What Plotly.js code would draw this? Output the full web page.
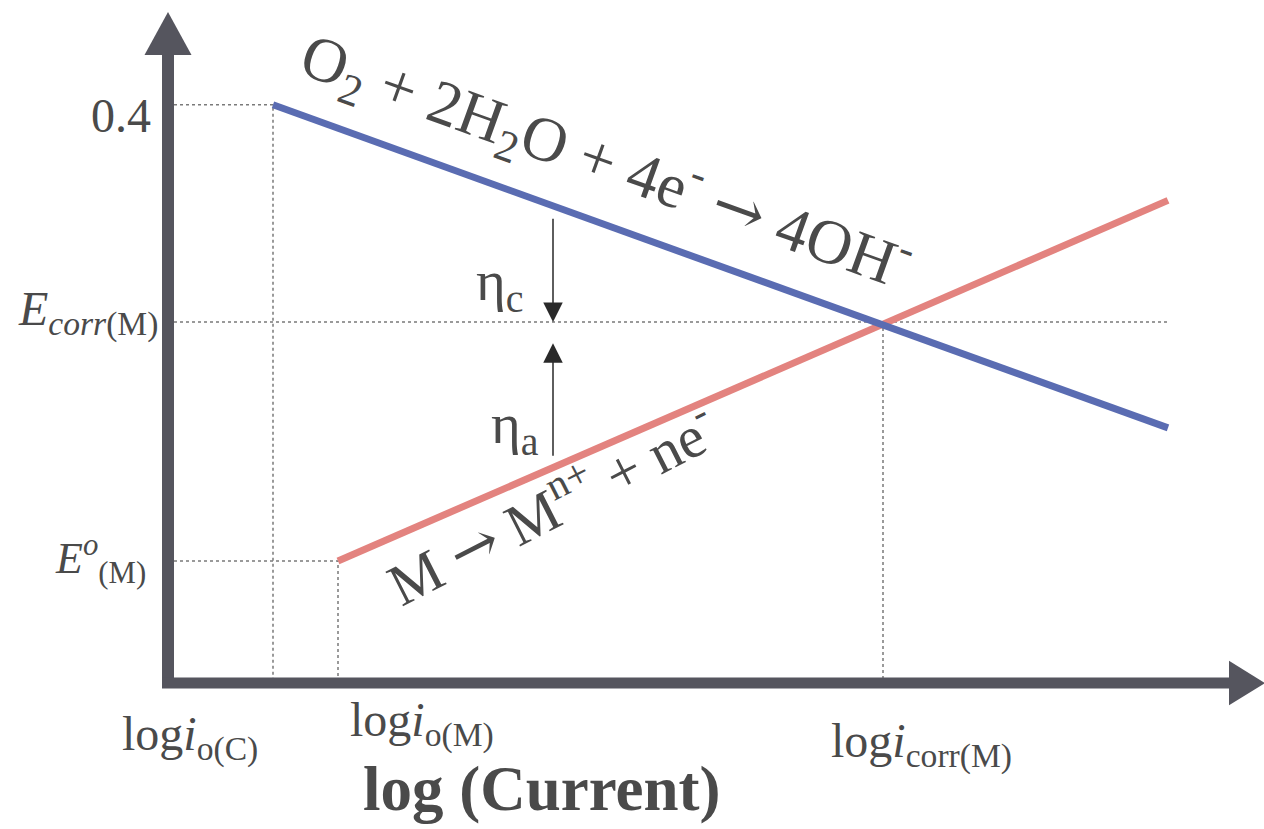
<!DOCTYPE html>
<html><head><meta charset="utf-8">
<script src="https://cdn.plot.ly/plotly-3.0.1.min.js"></script>
<style>html,body{margin:0;padding:0;background:#fff;}#chart{width:1264px;height:829px;}</style>
</head><body><div id="chart"></div>
<script>
// ---- data (arbitrary log-current units, potential in V) ----
const xTickVals = [1.05, 1.70, 7.15];
const xTickText = ['log<i>i</i><sub>o(C)</sub>', 'log<i>i</i><sub>o(M)</sub>', 'log<i>i</i><sub>corr(M)</sub>'];
const yTickVals = [0.40, 0.00, -0.44];
const yTickText = ['0.4', '<i>E</i><sub><i>corr</i>(M)</sub>', '<i>E</i><sup><i>o</i></sup><sub>(M)</sub>'];
const cathodicLogI = [1.05, 10.0];
const cathodicE = [0.40, -0.195];
const anodicLogI = [1.70, 10.0];
const anodicE = [-0.44, 0.224];
const etaLogI = 3.85;
const etaCathodic = [0.193, 0.0];
const etaAnodic = [-0.249, -0.039];
const ARROW = '<span style="font-family:DejaVu Serif">\u2192</span>';
const cathodicLabel = 'O<sub>2</sub> + 2H<sub>2</sub>O + 4e<sup>-</sup> ' + ARROW + ' 4OH<sup>-</sup>';
const anodicLabel = 'M ' + ARROW + ' M<sup>n+</sup> + ne<sup>-</sup>';
const xAxisTitle = '<b>log (Current)</b>';
const etaLabels = ['\u03b7<sub>c</sub>', '\u03b7<sub>a</sub>'];

const X_MIN = -1.68, X_MAX = 10.96, Y_MIN = -0.9337, Y_MAX = 0.593;
const AXIS_Y = -0.665;
const AXC = '#55555e';
const TXT = '#4a4a4a';
const FONT = 'Liberation Serif, Times New Roman, serif';

const gx = [0, xTickVals[0], xTickVals[0], null,
            0, xTickVals[1], xTickVals[1], null,
            0, cathodicLogI[1], null,
            xTickVals[2], xTickVals[2]];
const gy = [yTickVals[0], yTickVals[0], AXIS_Y, null,
            yTickVals[2], yTickVals[2], AXIS_Y, null,
            yTickVals[1], yTickVals[1], null,
            yTickVals[1], AXIS_Y];

const traces = [
  {x: gx, y: gy, mode: 'lines', line: {color: '#7a7a7a', width: 1.5, dash: 'dot'}, hoverinfo: 'skip'},
  {x: anodicLogI, y: anodicE, mode: 'lines', line: {color: '#e3837f', width: 7}},
  {x: cathodicLogI, y: cathodicE, mode: 'lines', line: {color: '#5a6cb2', width: 7}}
];

const shapes = [
  {type: 'line', xref: 'x', yref: 'y', x0: 0, x1: 0, y0: -0.674, y1: 0.492, line: {color: AXC, width: 12}},
  {type: 'line', xref: 'x', yref: 'y', x0: -0.06, x1: 10.61, y0: AXIS_Y, y1: AXIS_Y, line: {color: AXC, width: 11}},
  {type: 'path', xref: 'x', yref: 'y', path: 'M -0.235 0.4917 L 0.235 0.4917 L 0 0.571 Z', fillcolor: AXC, line: {width: 0}},
  {type: 'path', xref: 'x', yref: 'y', path: 'M 10.61 -0.624 L 10.61 -0.706 L 10.97 -0.665 Z', fillcolor: AXC, line: {width: 0}}
];

const ann = [];
// y labels
const yShiftX = [-15, -8, -20];
const yShiftY = [-11, 10, 2];
const ySizes = [48, 48, 44];
yTickVals.forEach((v, i) => ann.push({x: 0, y: v, xref: 'x', yref: 'y', text: yTickText[i], showarrow: false,
  xanchor: 'right', yanchor: 'middle', xshift: yShiftX[i], yshift: yShiftY[i], font: {family: FONT, size: ySizes[i], color: TXT}}));
// x labels
const xShiftX = [-83, 84, 38];
const xShiftY = [-54, -40, -61];
xTickVals.forEach((v, i) => ann.push({x: v, y: AXIS_Y, xref: 'x', yref: 'y', text: xTickText[i], showarrow: false,
  xanchor: 'center', yanchor: 'middle', xshift: xShiftX[i], yshift: xShiftY[i], font: {family: FONT, size: 48, color: TXT}}));
// x axis title
ann.push({x: 3.74, y: AXIS_Y, xref: 'x', yref: 'y', text: xAxisTitle, showarrow: false, xanchor: 'center', yanchor: 'middle',
  yshift: -106, font: {family: FONT, size: 63, color: TXT}});
// reaction labels
ann.push({x: 4.38, y: 0.296, xref: 'x', yref: 'y', text: cathodicLabel, showarrow: false, textangle: 19.8,
  font: {family: FONT, size: 63, color: TXT}});
ann.push({x: 3.83, y: -0.335, xref: 'x', yref: 'y', text: anodicLabel, showarrow: false, textangle: -27,
  font: {family: FONT, size: 59, color: TXT}});
// overpotential arrows
[etaCathodic, etaAnodic].forEach(a => ann.push({x: etaLogI, y: a[1], ax: etaLogI, ay: a[0], xref: 'x', yref: 'y', axref: 'x', ayref: 'y',
  text: '', showarrow: true, arrowhead: 2, arrowsize: 2.6, arrowwidth: 1.5, arrowcolor: '#2a2a2a', standoff: 0, startstandoff: 0}));
ann.push({x: etaLogI, y: 0, xref: 'x', yref: 'y', text: etaLabels[0], showarrow: false, xanchor: 'right', yanchor: 'middle',
  xshift: -27, yshift: 37, font: {family: FONT, size: 57, color: TXT}});
ann.push({x: etaLogI, y: 0, xref: 'x', yref: 'y', text: etaLabels[1], showarrow: false, xanchor: 'right', yanchor: 'middle',
  xshift: -12, yshift: -106, font: {family: FONT, size: 57, color: TXT}});

const layout = {
  width: 1264, height: 829, margin: {l: 0, r: 0, t: 0, b: 0},
  paper_bgcolor: '#fff', plot_bgcolor: '#fff', showlegend: false,
  xaxis: {range: [X_MIN, X_MAX], visible: false, fixedrange: true},
  yaxis: {range: [Y_MIN, Y_MAX], visible: false, fixedrange: true},
  shapes: shapes, annotations: ann
};
Plotly.newPlot('chart', traces, layout, {displayModeBar: false, staticPlot: true});
</script></body></html>
